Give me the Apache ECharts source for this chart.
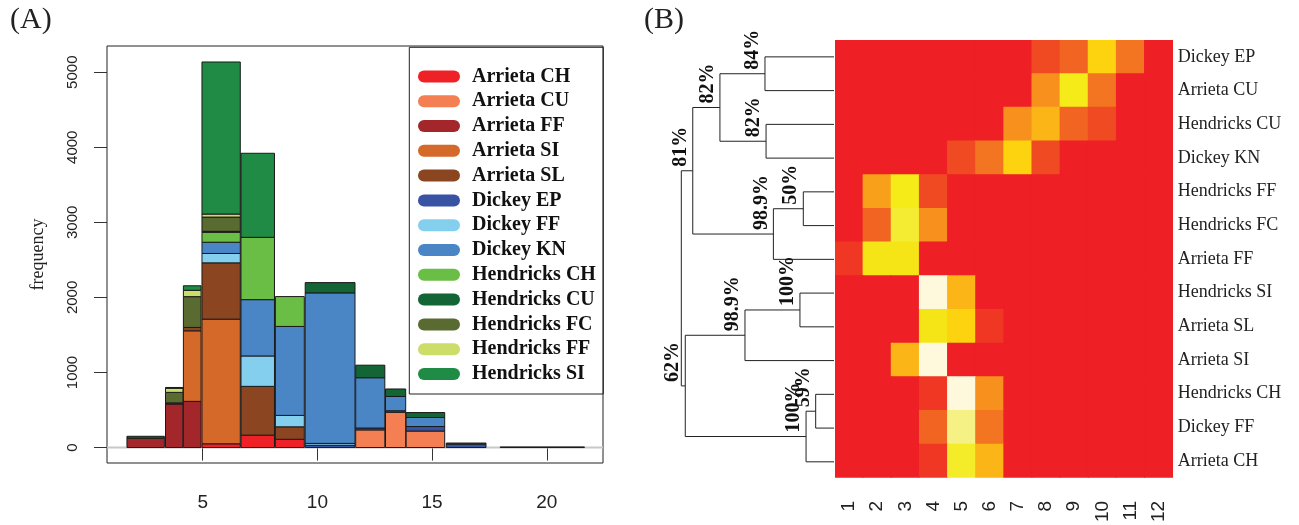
<!DOCTYPE html>
<html>
<head>
<meta charset="utf-8">
<script src="https://cdn.jsdelivr.net/npm/echarts@6/dist/echarts.min.js"></script>
<style>
  html, body { margin: 0; padding: 0; background: #fff; }
  #chart { width: 1299px; height: 525px; }
</style>
</head>
<body>
<div id="chart"></div>
<script>
// ---- panel A: histogram bins (x edges) and counts per group ----
const binLeft = [1.7, 3.38, 4.16, 4.97, 6.67, 8.17, 9.47, 11.67, 12.97, 13.87, 15.62, 17.97]
const binRight = [3.33, 4.14, 4.93, 6.64, 8.13, 9.43, 11.64, 12.94, 13.85, 15.55, 17.35, 21.64]

const groupNames = ['Arrieta CH', 'Arrieta CU', 'Arrieta FF', 'Arrieta SI', 'Arrieta SL', 'Dickey EP', 'Dickey FF',
  'Dickey KN', 'Hendricks CH', 'Hendricks CU', 'Hendricks FC', 'Hendricks FF', 'Hendricks SI']
const groupColors = ['#ee2226', '#f47f53', '#a3262a', '#d4692a', '#8b4520', '#3853a4', '#84cfee',
  '#4a86c5', '#6abd45', '#136535', '#596b30', '#ccdd6a', '#1f8b45']

const arrietaCH = [0, 0, 0, 50, 165, 110, 0, 0, 0, 0, 0, 0]
const arrietaCU = [0, 0, 0, 0, 0, 0, 0, 235, 470, 220, 0, 0]
const arrietaFF = [125, 580, 615, 0, 0, 0, 0, 0, 0, 0, 0, 0]
const arrietaSI = [0, 0, 940, 1660, 0, 0, 0, 0, 0, 0, 0, 0]
const arrietaSL = [0, 0, 45, 750, 650, 166, 0, 0, 0, 0, 0, 0]
const dickeyEP = [0, 0, 0, 0, 0, 0, 30, 25, 20, 60, 45, 8]
const dickeyFF = [0, 0, 0, 125, 405, 152, 25, 0, 0, 0, 0, 0]
const dickeyKN = [0, 0, 0, 150, 750, 1185, 2005, 670, 190, 120, 0, 0]
const hendricksCH = [0, 0, 0, 133, 830, 398, 0, 0, 0, 0, 0, 0]
const hendricksCU = [25, 15, 0, 12, 0, 0, 137, 167, 100, 66, 15, 0]
const hendricksFC = [0, 140, 410, 190, 0, 0, 0, 0, 0, 0, 0, 0]
const hendricksFF = [0, 55, 85, 40, 0, 0, 0, 0, 0, 0, 0, 0]
const hendricksSI = [0, 10, 60, 2026, 1120, 0, 0, 0, 0, 0, 0, 0]
const groupCounts = [arrietaCH, arrietaCU, arrietaFF, arrietaSI, arrietaSL, dickeyEP, dickeyFF,
  dickeyKN, hendricksCH, hendricksCU, hendricksFC, hendricksFF, hendricksSI]

const xTicks = [5, 10, 15, 20]
const yTicks = [0, 1000, 2000, 3000, 4000, 5000]

// ---- panel B: leaves (top to bottom), tree merges and heat values ----
const leaves = ['Dickey EP', 'Arrieta CU', 'Hendricks CU', 'Dickey KN', 'Hendricks FF', 'Hendricks FC', 'Arrieta FF',
  'Hendricks SI', 'Arrieta SL', 'Arrieta SI', 'Hendricks CH', 'Dickey FF', 'Arrieta CH']
// children: string = leaf, number = earlier merge
const mergeLeft = ['Dickey EP', 'Hendricks CU', 0, 'Hendricks FF', 3, 2, 'Hendricks SI', 6, 'Hendricks CH', 8, 7, 5]
const mergeRight = ['Arrieta CU', 'Dickey KN', 1, 'Hendricks FC', 'Arrieta FF', 4, 'Arrieta SL', 'Arrieta SI', 'Dickey FF', 'Arrieta CH', 9, 10]
const mergeHeight = [0.452, 0.445, 0.747, 0.201, 0.397, 0.925, 0.223, 0.583, 0.120, 0.183, 0.974, 1.0]
const mergeSupport = ['84%', '82%', '82%', '50%', '98.9%', '81%', '100%', '98.9%', '59%', '100%', '62%', '']

const heatColumns = ['1', '2', '3', '4', '5', '6', '7', '8', '9', '10', '11', '12']
const heatValues = [
  [0, 0, 0, 0, 0, 0, 0, 0.125, 0.2, 0.625, 0.25, 0],
  [0, 0, 0, 0, 0, 0, 0, 0.36, 0.75, 0.25, 0, 0],
  [0, 0, 0, 0, 0, 0, 0.36, 0.5, 0.2, 0.125, 0, 0],
  [0, 0, 0, 0, 0.125, 0.25, 0.625, 0.125, 0, 0, 0, 0],
  [0, 0.42, 0.75, 0.125, 0, 0, 0, 0, 0, 0, 0, 0],
  [0, 0.2, 0.78, 0.36, 0, 0, 0, 0, 0, 0, 0, 0],
  [0.07, 0.72, 0.72, 0, 0, 0, 0, 0, 0, 0, 0, 0],
  [0, 0, 0, 1, 0.5, 0, 0, 0, 0, 0, 0, 0],
  [0, 0, 0, 0.72, 0.625, 0.07, 0, 0, 0, 0, 0, 0],
  [0, 0, 0.5, 1, 0, 0, 0, 0, 0, 0, 0, 0],
  [0, 0, 0, 0.07, 1, 0.36, 0, 0, 0, 0, 0, 0],
  [0, 0, 0, 0.2, 0.875, 0.25, 0, 0, 0, 0, 0, 0],
  [0, 0, 0, 0.07, 0.77, 0.5, 0, 0, 0, 0, 0, 0]
]
const heatColors = ['#ee1f25', '#f04a23', '#f47521', '#f7941d', '#fbb516', '#fdd20e', '#f4eb18', '#f6f185', '#fef9dc']

// stacked segments for each group
const segments = groupNames.map(() => [])
binLeft.forEach((x0, j) => {
  let base = 0
  groupCounts.forEach((counts, i) => {
    const v = counts[j]
    if (v > 0) {
      segments[i].push([x0, binRight[j], base, base + v])
      base += v
    }
  })
})

// node positions of the tree
const nodeY = []
function childPos(c) {
  if (typeof c === 'string') return { h: 0, y: leaves.indexOf(c) }
  return { h: mergeHeight[c], y: nodeY[c] }
}
mergeLeft.forEach((c, i) => {
  nodeY[i] = (childPos(c).y + childPos(mergeRight[i]).y) / 2
})

function renderSegment(params, api) {
  const p0 = api.coord([api.value(0), api.value(3)])
  const p1 = api.coord([api.value(1), api.value(2)])
  return {
    type: 'rect',
    shape: { x: p0[0], y: p0[1], width: p1[0] - p0[0], height: p1[1] - p0[1] },
    style: { fill: api.visual('color'), stroke: '#1a1a1a', lineWidth: 1 }
  }
}

function renderZero(params, api) {
  const cs = params.coordSys
  const y = api.coord([5, api.value(1)])[1]
  return {
    type: 'line',
    shape: { x1: cs.x, y1: y, x2: cs.x + cs.width, y2: y },
    style: { stroke: '#c8c8c8', lineWidth: 2 }
  }
}

function renderMerge(params, api) {
  const i = api.value(0)
  const a = childPos(mergeLeft[i])
  const b = childPos(mergeRight[i])
  const h = mergeHeight[i]
  const pts = [[a.h, a.y], [h, a.y], [h, b.y], [b.h, b.y]].map(p => api.coord(p))
  const node = api.coord([h, nodeY[i]])
  const children = [{
    type: 'polyline',
    shape: { points: pts },
    style: { stroke: '#222', lineWidth: 1, fill: 'none' }
  }]
  if (mergeSupport[i]) {
    children.push({
      type: 'text',
      x: node[0] - 2,
      y: node[1] - 4,
      rotation: Math.PI / 2,
      style: {
        text: mergeSupport[i],
        font: 'bold 20px "Liberation Serif"',
        fill: '#111',
        align: 'left',
        verticalAlign: 'bottom'
      }
    })
  }
  return { type: 'group', children }
}

// heat cells, drawn a bit oversized so neighbours overlap without seams
function renderCell(params, api) {
  const c = api.coord([api.value(0), api.value(1)])
  const s = api.size([1, 1])
  return {
    type: 'rect',
    shape: { x: c[0] - s[0] / 2 - 0.5, y: c[1] - s[1] / 2 - 0.5, width: s[0] + 1, height: s[1] + 1 },
    style: { fill: api.visual('color') }
  }
}

const heatData = []
heatValues.forEach((row, r) => row.forEach((v, c) => heatData.push([c, r, v])))

const barSeries = groupNames.map((name, i) => ({
  name,
  type: 'custom',
  xAxisIndex: 0,
  yAxisIndex: 0,
  z: 2,
  itemStyle: { color: groupColors[i] },
  encode: { x: [0, 1], y: [2, 3] },
  renderItem: renderSegment,
  data: segments[i]
}))

const chart = echarts.init(document.getElementById('chart'))
chart.setOption({
  backgroundColor: '#fff',
  animation: false,
  grid: [
    { left: 107, top: 46, width: 496, height: 417, show: true, borderColor: '#222', borderWidth: 1 },
    { left: 681.3, top: 40, width: 152.7, height: 438.7 },
    { left: 835, top: 40, width: 337.7, height: 438.7 }
  ],
  xAxis: [
    {
      gridIndex: 0, type: 'value', min: 0.83, max: 22.45,
      axisLine: { show: false },
      splitLine: { show: false },
      axisTick: { customValues: xTicks, length: 13, lineStyle: { color: '#333' } },
      axisLabel: { customValues: xTicks, margin: 30, fontSize: 19, fontFamily: 'Liberation Sans', color: '#222' }
    },
    { gridIndex: 1, type: 'value', min: 0, max: 1, inverse: true, show: false },
    {
      gridIndex: 2, type: 'category', data: heatColumns,
      axisLine: { show: false }, axisTick: { show: false },
      axisLabel: { rotate: 90, margin: 23, fontSize: 19, fontFamily: 'Liberation Sans', color: '#222' }
    }
  ],
  yAxis: [
    {
      gridIndex: 0, type: 'value', min: -206, max: 5349,
      axisLine: { show: false },
      splitLine: { show: false },
      axisTick: { customValues: yTicks, length: 13, lineStyle: { color: '#333' } },
      axisLabel: {
        customValues: yTicks, rotate: 90, margin: 27, fontSize: 15, fontFamily: 'Liberation Sans', color: '#222',
        formatter: v => String(v)
      },
      name: 'frequency', nameLocation: 'middle', nameGap: 60,
      nameTextStyle: { fontSize: 18, fontFamily: 'Liberation Serif', color: '#222' }
    },
    { gridIndex: 1, type: 'value', min: -0.5, max: 12.5, inverse: true, show: false },
    {
      gridIndex: 2, type: 'category', data: leaves, inverse: true, position: 'right',
      axisLine: { show: false }, axisTick: { show: false },
      axisLabel: { margin: 5, fontSize: 18, fontFamily: 'Liberation Serif', color: '#222' }
    }
  ],
  legend: {
    data: groupNames,
    orient: 'vertical',
    left: 413,
    top: 59,
    itemWidth: 42,
    itemHeight: 12,
    itemGap: 0,
    icon: 'path://M6,0H36A6,6,0,0,1,36,12H6A6,6,0,0,1,6,0Z',
    itemStyle: { borderWidth: 0 },
    textStyle: { fontFamily: 'Liberation Serif', fontWeight: 'bold', fontSize: 20, lineHeight: 24.8, color: '#111', padding: [0, 0, 0, 7] }
  },
  visualMap: {
    type: 'continuous', show: false, min: 0, max: 1, dimension: 2,
    seriesIndex: groupNames.length + 2,
    inRange: { color: heatColors }
  },
  graphic: [
    { type: 'rect', shape: { x: 409.3, y: 47.3, width: 194, height: 346.7 }, style: { fill: 'none', stroke: '#222', lineWidth: 1 }, z: 5 },
    { type: 'text', left: 10, top: 5, style: { text: '(A)', font: '30px "Liberation Serif"', fill: '#222' } },
    { type: 'text', left: 644, top: 5, style: { text: '(B)', font: '30px "Liberation Serif"', fill: '#222' } }
  ],
  series: [
    {
      name: 'zero', type: 'custom', xAxisIndex: 0, yAxisIndex: 0, z: 1,
      renderItem: renderZero, data: [[5, 0]]
    },
    ...barSeries,
    {
      name: 'tree', type: 'custom', xAxisIndex: 1, yAxisIndex: 1, clip: false,
      renderItem: renderMerge, data: mergeLeft.map((_, i) => [i, 0])
    },
    {
      name: 'heat', type: 'custom', xAxisIndex: 2, yAxisIndex: 2, clip: true,
      encode: { x: 0, y: 1 },
      renderItem: renderCell,
      data: heatData
    }
  ]
})
</script>
</body>
</html>
